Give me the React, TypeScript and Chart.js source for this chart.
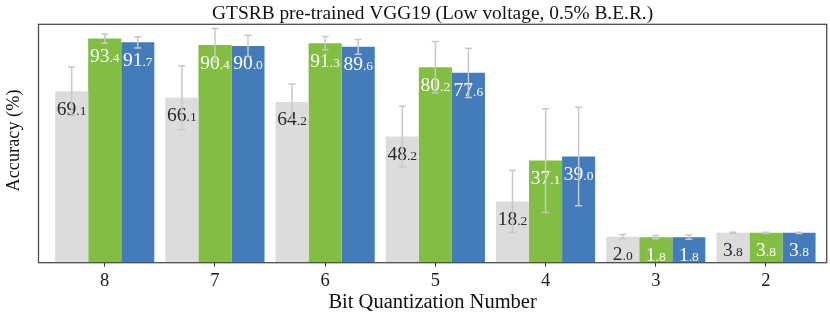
import React, { useEffect, useRef } from "react";
import { Chart, registerables } from "chart.js";

Chart.register(...registerables);

const titleText = "GTSRB pre-trained VGG19 (Low voltage, 0.5% B.E.R.)";
const xTitle = "Bit Quantization Number";
const yTitle = "Accuracy (%)";

const categories = ["8", "7", "6", "5", "4", "3", "2"];

const grayValues = [69.1, 66.1, 64.2, 48.2, 18.2, 2.0, 3.8];
const greenValues = [93.4, 90.4, 91.3, 80.2, 37.1, 1.8, 3.8];
const blueValues = [91.7, 90.0, 89.6, 77.6, 39.0, 1.8, 3.8];

const grayErrors = [11.2, 14.8, 8.2, 14.0, 14.3, 1.0, 0.3];
const greenErrors = [2.1, 7.7, 3.1, 11.9, 23.9, 0.8, 0.3];
const blueErrors = [2.6, 4.9, 3.4, 11.4, 22.7, 1.0, 0.3];

const yMin = -10;
const yMax = 100;

const FONT = "'Liberation Serif', 'Times New Roman', serif";

const seriesValues = [grayValues, greenValues, blueValues];
const seriesErrors = [grayErrors, greenErrors, blueErrors];
const seriesColors = ["#dcdcdc", "#82be41", "#437bbb"];
const labelColors = ["#2a2a2a", "#ffffff", "#ffffff"];

const overlayPlugin = {
  id: "overlay",
  afterDatasetsDraw(chart: any) {
    const ctx = chart.ctx as CanvasRenderingContext2D;
    const { left, right, top, bottom } = chart.chartArea;
    const yScale = chart.scales.y;

    // value labels
    chart.data.datasets.forEach((_ds: any, di: number) => {
      const meta = chart.getDatasetMeta(di);
      meta.data.forEach((bar: any, i: number) => {
        const v = seriesValues[di][i];
        const s = v.toFixed(1);
        const [ip, dp] = s.split(".");
        const bigFont = `19.5px ${FONT}`;
        const smallFont = `13.5px ${FONT}`;
        ctx.save();
        ctx.font = bigFont;
        const w1 = ctx.measureText(ip).width;
        ctx.font = smallFont;
        const w2 = ctx.measureText("." + dp).width;
        const x0 = bar.x - (w1 + w2) / 2;
        const by = yScale.getPixelForValue(v) + 23.5;
        ctx.fillStyle = labelColors[di];
        ctx.textBaseline = "alphabetic";
        ctx.textAlign = "left";
        ctx.font = bigFont;
        ctx.fillText(ip, x0, by);
        ctx.font = smallFont;
        ctx.fillText("." + dp, x0 + w1, by);
        ctx.restore();
      });
    });

    // error bars
    chart.data.datasets.forEach((_ds: any, di: number) => {
      const meta = chart.getDatasetMeta(di);
      meta.data.forEach((bar: any, i: number) => {
        const v = seriesValues[di][i];
        const e = seriesErrors[di][i];
        const yTop = yScale.getPixelForValue(v + e);
        const yBot = yScale.getPixelForValue(v - e);
        ctx.save();
        ctx.strokeStyle = "#c8c8c8";
        ctx.lineWidth = 1.5;
        ctx.beginPath();
        ctx.moveTo(bar.x, yTop);
        ctx.lineTo(bar.x, yBot);
        ctx.moveTo(bar.x - 3.5, yTop);
        ctx.lineTo(bar.x + 3.5, yTop);
        ctx.moveTo(bar.x - 3.5, yBot);
        ctx.lineTo(bar.x + 3.5, yBot);
        ctx.stroke();
        ctx.restore();
      });
    });

    // frame
    ctx.save();
    ctx.strokeStyle = "#4d4d4d";
    ctx.lineWidth = 1.3;
    ctx.strokeRect(left, top, right - left, bottom - top);
    ctx.restore();
  },
  afterDraw(chart: any) {
    const ctx = chart.ctx as CanvasRenderingContext2D;
    const { left, right, top, bottom } = chart.chartArea;
    const cx = (left + right) / 2;
    ctx.save();
    ctx.fillStyle = "#111111";
    ctx.font = `19.4px ${FONT}`;
    ctx.textAlign = "center";
    ctx.textBaseline = "alphabetic";
    ctx.fillText(titleText, cx, 18.5);

    ctx.font = `20.5px ${FONT}`;
    ctx.fillText(xTitle, cx, 308);

    ctx.translate(18.5, (top + bottom) / 2 - 3);
    ctx.rotate(-Math.PI / 2);
    ctx.font = `18.3px ${FONT}`;
    ctx.fillText(yTitle, 0, 0);
    ctx.restore();
  },
};

export default function App() {
  const canvasRef = useRef<HTMLCanvasElement | null>(null);

  useEffect(() => {
    const canvas = canvasRef.current;
    if (!canvas) return;
    const datasets = seriesValues.map((vals, di) => ({
      label: `s${di}`,
      data: vals.map((v, i) => ({ x: i, y: [yMin, v] })),
      backgroundColor: seriesColors[di],
      borderWidth: 0,
      categoryPercentage: 0.9,
      barPercentage: 1.0,
    }));
    const chart = new Chart(canvas, {
      type: "bar",
      data: { datasets } as any,
      options: {
        responsive: false,
        animation: false,
        devicePixelRatio: 1,
        layout: { padding: { left: 38.5, right: 3.3, top: 24.3, bottom: 0 } },
        plugins: {
          legend: { display: false },
          tooltip: { enabled: false },
          title: { display: false },
        },
        scales: {
          x: {
            type: "linear",
            min: -0.601,
            max: 6.551,
            offset: false,
            grid: {
              display: true,
              offset: false,
              drawOnChartArea: false,
              drawTicks: true,
              tickLength: 4,
              color: "#333333",
              lineWidth: 1,
            },
            border: { display: false },
            ticks: {
              stepSize: 1,
              includeBounds: false,
              autoSkip: false,
              maxRotation: 0,
              minRotation: 0,
              padding: 3,
              color: "#1a1a1a",
              font: { family: FONT, size: 18.5 },
              callback: (v: any) =>
                Number.isInteger(v) && v >= 0 && v < categories.length ? categories[v] : "",
            },
            afterFit: (s: any) => {
              s.height = 54.3;
            },
          },
          y: {
            display: false,
            min: yMin,
            max: yMax,
          },
        },
      } as any,
      plugins: [overlayPlugin],
    });
    return () => chart.destroy();
  }, []);

  return (
    <div style={{ position: "absolute", left: 0, top: 0, width: 830, height: 317, background: "#ffffff" }}>
      <canvas ref={canvasRef} width={830} height={317} style={{ width: 830, height: 317 }} />
    </div>
  );
}
